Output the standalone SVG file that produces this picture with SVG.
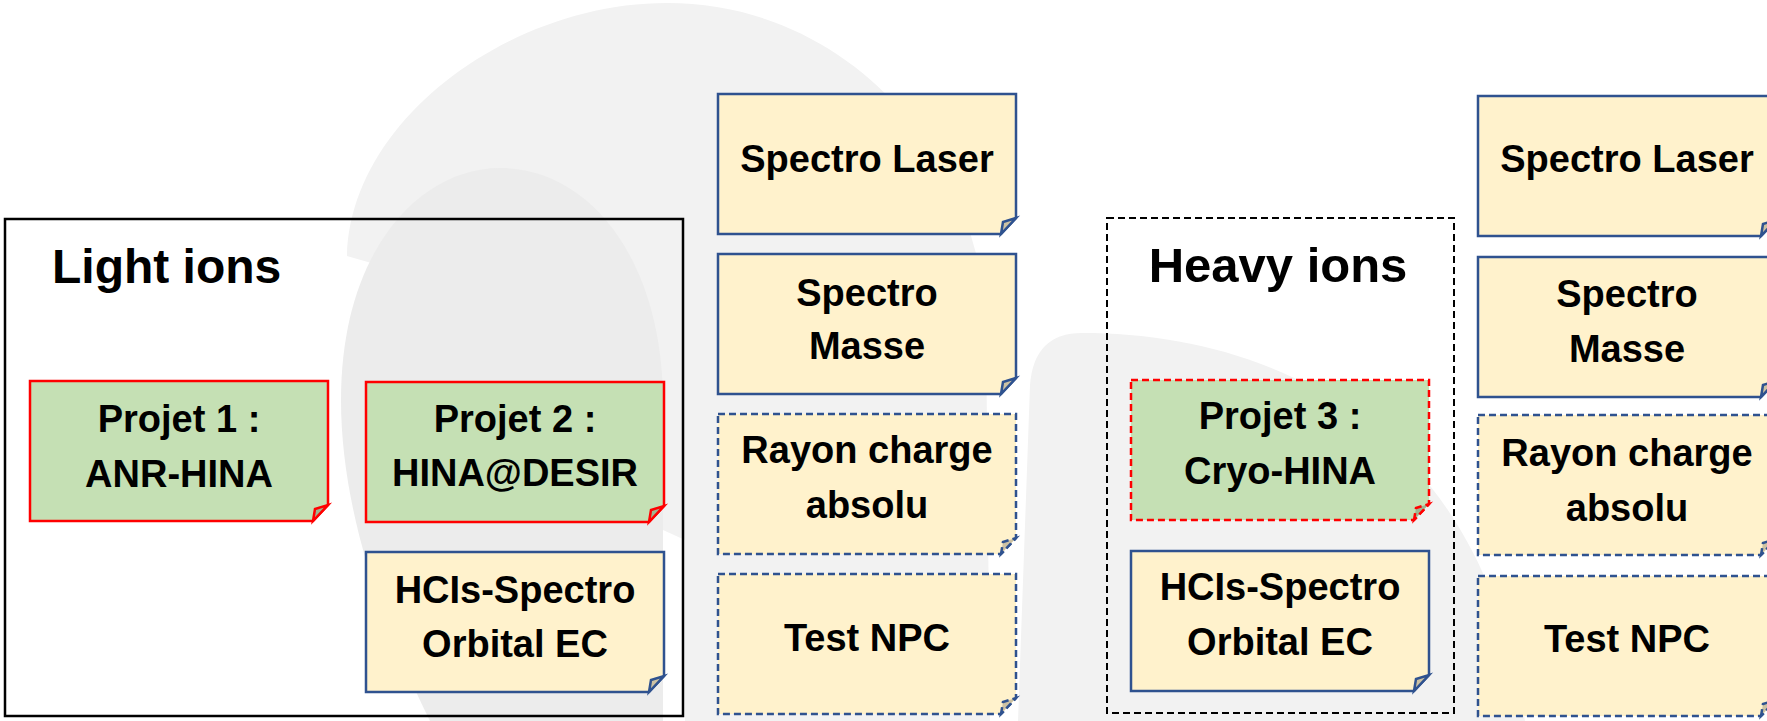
<svg xmlns="http://www.w3.org/2000/svg" xmlns:xlink="http://www.w3.org/1999/xlink" width="1767" height="721" viewBox="0 0 1767 721">
<style>
.t{font-family:"Liberation Sans",Arial,sans-serif;font-weight:bold;font-size:38px;fill:#000;text-anchor:middle}
.title{font-family:"Liberation Sans",Arial,sans-serif;font-weight:bold;font-size:48px;fill:#000}
.yel{fill:#fff2cc;stroke:#2f528f;stroke-width:2.5}
.grn{fill:#c5e0b4;stroke:#ff0000;stroke-width:2.5}
.yfold{fill:#cdc2a3;stroke:#2f528f;stroke-width:2.5}
.gfold{fill:#9fb591;stroke:#ff0000;stroke-width:2.5}
.dash{stroke-dasharray:7 4}
.bg1{fill:#f2f2f2}
.bg2{fill:#ececec}
</style>
<defs>
<path id="note" d="M0,0 H298 V124 L283,140 H0 Z"/>
<path id="fold" d="M283,140 L285,128 L298,124 Z"/>
</defs>
<rect width="1767" height="721" fill="#ffffff"/>
<g id="background">
<path class="bg1" d="M347,256 C350,120 510,3 667,3 C850,3 984,160 986,330 L990,721 L685,721 L685,540 L663,530 L663,400 L500,300 Z"/>
<path class="bg2" d="M341,400 C341,250 420,168 500,168 C590,168 662,260 663,400 L663,721 L430,721 C390,640 341,520 341,400 Z"/>
<path class="bg1" d="M1018,721 L1030,385 Q1034,333 1082,333 C1265,333 1480,420 1525,721 Z"/>
</g>
<g id="light-ions">
<rect x="5" y="219" width="678" height="497" fill="none" stroke="#000" stroke-width="2.5"/>
<text class="title" x="52" y="283">Light ions</text>
</g>
<g id="heavy-ions">
<rect x="1107" y="218" width="347" height="495" fill="none" stroke="#000" stroke-width="2" stroke-dasharray="7 4"/>
<text class="title" x="1278" y="282" text-anchor="middle" style="font-size:49px">Heavy ions</text>
</g>
<g id="projet1" transform="translate(30,381)">
<use xlink:href="#note" class="grn"/><use xlink:href="#fold" class="gfold"/>
<text class="t" x="149" y="51">Projet 1 :</text><text class="t" x="149" y="106">ANR-HINA</text>
</g>
<g id="projet2" transform="translate(366,382)">
<use xlink:href="#note" class="grn"/><use xlink:href="#fold" class="gfold"/>
<text class="t" x="149" y="50">Projet 2 :</text><text class="t" x="149" y="104">HINA@DESIR</text>
</g>
<g id="hcis1" transform="translate(366,552)">
<use xlink:href="#note" class="yel"/><use xlink:href="#fold" class="yfold"/>
<text class="t" x="149" y="51">HCIs-Spectro</text><text class="t" x="149" y="105">Orbital EC</text>
</g>
<g id="spectro-laser1" transform="translate(718,94)">
<use xlink:href="#note" class="yel"/><use xlink:href="#fold" class="yfold"/>
<text class="t" x="149" y="78">Spectro Laser</text>
</g>
<g id="spectro-masse1" transform="translate(718,254)">
<use xlink:href="#note" class="yel"/><use xlink:href="#fold" class="yfold"/>
<text class="t" x="149" y="52">Spectro</text><text class="t" x="149" y="105">Masse</text>
</g>
<g id="rayon1" transform="translate(718,414)">
<use xlink:href="#note" class="yel dash"/><use xlink:href="#fold" class="yfold dash"/>
<text class="t" x="149" y="49">Rayon charge</text><text class="t" x="149" y="104">absolu</text>
</g>
<g id="npc1" transform="translate(718,574)">
<use xlink:href="#note" class="yel dash"/><use xlink:href="#fold" class="yfold dash"/>
<text class="t" x="149" y="77">Test NPC</text>
</g>
<g id="projet3" transform="translate(1131,380)">
<use xlink:href="#note" class="grn dash"/><use xlink:href="#fold" class="gfold dash"/>
<text class="t" x="149" y="49">Projet 3 :</text><text class="t" x="149" y="104">Cryo-HINA</text>
</g>
<g id="hcis2" transform="translate(1131,551)">
<use xlink:href="#note" class="yel"/><use xlink:href="#fold" class="yfold"/>
<text class="t" x="149" y="49">HCIs-Spectro</text><text class="t" x="149" y="104">Orbital EC</text>
</g>
<g id="spectro-laser2" transform="translate(1478,96)">
<use xlink:href="#note" class="yel"/><use xlink:href="#fold" class="yfold"/>
<text class="t" x="149" y="76">Spectro Laser</text>
</g>
<g id="spectro-masse2" transform="translate(1478,257)">
<use xlink:href="#note" class="yel"/><use xlink:href="#fold" class="yfold"/>
<text class="t" x="149" y="50">Spectro</text><text class="t" x="149" y="105">Masse</text>
</g>
<g id="rayon2" transform="translate(1478,415)">
<use xlink:href="#note" class="yel dash"/><use xlink:href="#fold" class="yfold dash"/>
<text class="t" x="149" y="51">Rayon charge</text><text class="t" x="149" y="106">absolu</text>
</g>
<g id="npc2" transform="translate(1478,576)">
<use xlink:href="#note" class="yel dash"/><use xlink:href="#fold" class="yfold dash"/>
<text class="t" x="149" y="76">Test NPC</text>
</g>
<g id="connectors"/>
</svg>
